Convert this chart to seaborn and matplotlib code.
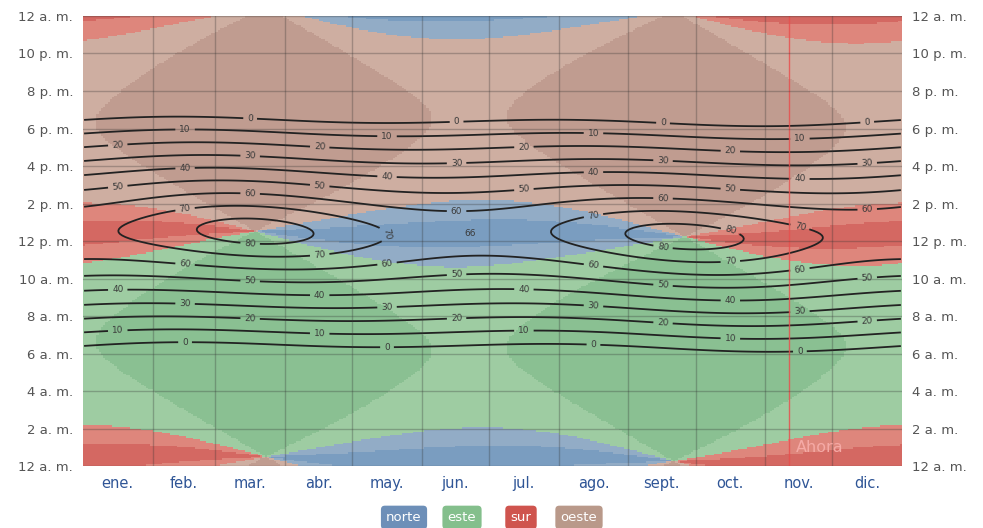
import numpy as np
import matplotlib.pyplot as plt
import matplotlib.colors as mcolors
import seaborn as sns

sns.set_style('white')
plt.rcParams['font.family'] = ['DejaVu Sans']

# site: 66 deg max at the June noon (sun to the north),
# 80 deg loops around the equinoxes, sunrise about 6:30 a. m.
latitude = -0.95
longitude = -80.7
utc_offset = -5
today = 314  # "Ahora" line, Nov 11

months = ['ene.', 'feb.', 'mar.', 'abr.', 'may.', 'jun.', 'jul.', 'ago.', 'sept.', 'oct.', 'nov.', 'dic.']
month_days = [31, 28, 31, 30, 31, 30, 31, 31, 30, 31, 30, 31]
hour_labels = ['12 a. m.', '2 a. m.', '4 a. m.', '6 a. m.', '8 a. m.', '10 a. m.', '12 p. m.',
               '2 p. m.', '4 p. m.', '6 p. m.', '8 p. m.', '10 p. m.', '12 a. m.']
levels = [0, 10, 20, 30, 40, 50, 60, 70, 80]
directions = ['norte', 'este', 'sur', 'oeste']
dark_colors = ['#7a9dc0', '#8ac092', '#d46862', '#c09c90']
light_colors = ['#92acc6', '#9ecca2', '#de867c', '#ceaea1']
legend_colors = ['#6d8fb8', '#84bf8c', '#cf544e', '#b9998a']

# solar position on a day x 5-minute grid
step = 5
ndays = 365
nrows = 24 * 60 // step
days = np.arange(ndays) + 0.5
minutes = (np.arange(nrows) + 0.5) * step
g = 2 * np.pi / 365 * days
eot = 229.18 * (0.000075 + 0.001868 * np.cos(g) - 0.032077 * np.sin(g)
                - 0.014615 * np.cos(2 * g) - 0.040849 * np.sin(2 * g))
decl = (0.006918 - 0.399912 * np.cos(g) + 0.070257 * np.sin(g) - 0.006758 * np.cos(2 * g)
        + 0.000907 * np.sin(2 * g) - 0.002697 * np.cos(3 * g) + 0.00148 * np.sin(3 * g))
tst = minutes[:, None] + eot[None, :] + 4 * longitude - 60 * utc_offset
H = np.radians(tst / 4 - 180)
lat = np.radians(latitude)
sin_alt = np.sin(lat) * np.sin(decl) + np.cos(lat) * np.cos(decl) * np.cos(H)
elev = np.degrees(np.arcsin(sin_alt))
north = np.cos(lat) * np.sin(decl) - np.sin(lat) * np.cos(decl) * np.cos(H)
east = -np.cos(decl) * np.sin(H)
az = np.degrees(np.arctan2(east, north)) % 360
card = np.round(az / 90)
code = 2 * (card.astype(int) % 4) + (np.abs(az - 90 * card) > 22.5)

fig = plt.figure(figsize=(9.83, 5.28), dpi=100)
ax = fig.add_axes([0.0844, 0.1174, 0.8332, 0.8523])
cmap = mcolors.ListedColormap([c for pair in zip(dark_colors, light_colors) for c in pair])
sns.heatmap(code, ax=ax, cmap=cmap, vmin=-0.5, vmax=7.5, cbar=False,
            xticklabels=False, yticklabels=False, rasterized=True)
ax.set_ylim(0, nrows)
ax.set_xlim(0, ndays)

xc = np.arange(ndays) + 0.5
yc = np.arange(nrows) + 0.5
cs = ax.contour(xc, yc, elev, levels=levels, colors='#222222', linewidths=1.3)

month_start = np.cumsum([0] + month_days[:-1])
month_mid = month_start + np.array(month_days) / 2

# labels staggered month by month, as on the original
positions = []
for m, lev in enumerate(levels):
    for side, first in (('am', [1, 0, 2][m % 3]), ('pm', [2, 1, 0][m % 3])):
        for mi in range(first, 12, 3):
            col = int(month_mid[mi])
            prof = elev[:, col]
            idx = np.where(np.diff(np.sign(prof - lev)) != 0)[0]
            if len(idx) == 0:
                continue
            i = idx[0] if side == 'am' else idx[-1]
            frac = (lev - prof[i]) / (prof[i + 1] - prof[i])
            positions.append((col + 0.5, i + 0.5 + frac))
ax.clabel(cs, levels, inline=True, fmt='%d', fontsize=6.5, colors='#3a3a3a',
          manual=positions, inline_spacing=4)

daily_max = elev.max(axis=0)
jmin = int(np.argmin(daily_max))
imax = int(np.argmax(elev[:, jmin]))
ax.text(jmin + 0.5, imax + 0.5, f'{daily_max[jmin]:.0f}', fontsize=6.5, color='#3a3a3a',
        ha='center', va='center')

ax.axvline(today + 0.5, color='#e8504f', lw=1, alpha=0.85)
ax.text(today + 3.5, 12, 'Ahora', color='#f5aaa6', fontsize=11.5, ha='left', va='center')

ax.set_xticks(month_mid)
ax.set_xticklabels(months)
ax.set_xticks(month_start[1:], minor=True)
ax.set_yticks(np.arange(0, nrows + 1, 24))
ax.set_yticklabels(hour_labels)
ax.tick_params(axis='x', which='both', length=0, pad=7, labelsize=10.5, labelcolor='#2f5596')
ax.tick_params(axis='y', length=0, pad=7, labelsize=9.5, labelcolor='#555555',
               labelleft=True, labelright=True)
ax.grid(False)
ax.set_axisbelow(False)
ax.xaxis.grid(True, which='minor', color='#333333', alpha=0.3, lw=1)
ax.yaxis.grid(True, which='major', color='#333333', alpha=0.3, lw=1)
for s in ax.spines.values():
    s.set_visible(False)

lx = [0.411, 0.470, 0.530, 0.589]
for x, name, c in zip(lx, directions, legend_colors):
    fig.text(x, 0.02, name, color='white', fontsize=9.5, ha='center', va='center',
             bbox=dict(boxstyle='round,pad=0.4,rounding_size=0.3', fc=c, ec='none'))

fig.savefig('out.png', dpi=100)
